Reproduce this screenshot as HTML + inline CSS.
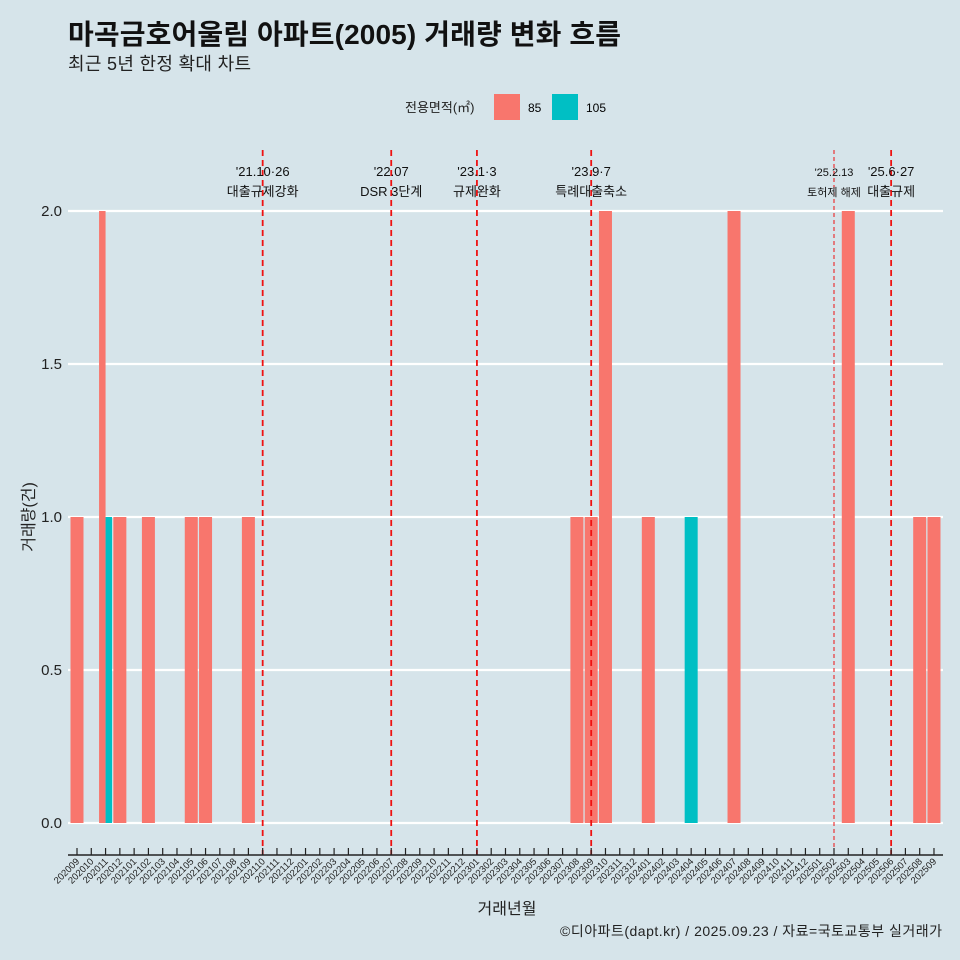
<!DOCTYPE html>
<html><head><meta charset="utf-8"><style>
body{margin:0;background:#d6e4ea;}
svg{display:block;font-family:"Liberation Sans","Noto Sans CJK KR",sans-serif;}
</style></head><body>
<svg id="c" width="960" height="960" viewBox="0 0 960 960">
<rect width="960" height="960" fill="#d6e4ea"/>
<text x="68" y="44" font-size="28" font-weight="bold" fill="#111" textLength="553">마곡금호어울림 아파트(2005) 거래량 변화 흐름</text>
<text x="68" y="70" font-size="18" fill="#222" textLength="183">최근 5년 한정 확대 차트</text>
<g>
<text x="405" y="112" font-size="13" fill="#222">전용면적(㎡)</text>
<rect x="494" y="94" width="26" height="26" fill="#f8766d"/>
<text x="528" y="112" font-size="12">85</text>
<rect x="552" y="94" width="26" height="26" fill="#00bfc4"/>
<text x="586" y="112" font-size="12">105</text>
</g>
<g id="grid"></g><g id="bars"></g><g id="events"></g><g id="axes"></g>
<text x="507" y="914" font-size="16" text-anchor="middle" fill="#222">거래년월</text>
<text transform="translate(34,517) rotate(-90)" font-size="16" text-anchor="middle" fill="#222">거래량(건)</text>
<text x="942" y="936" font-size="14" text-anchor="end" fill="#222" textLength="382">©디아파트(dapt.kr) / 2025.09.23 / 자료=국토교통부 실거래가</text>
</svg>
<script>
const months=[];for(let y=2020,m=9;y<2025||(y===2025&&m<=9);){months.push(''+y+(m<10?'0':'')+m);m++;if(m>12){m=1;y++;}}
const s85Months=['202009','202011','202012','202102','202105','202106','202109','202308','202309','202310','202401','202407','202503','202508','202509'];
const s85Values=[1,2,1,1,1,1,1,1,1,2,1,2,2,1,1];
const s105Months=['202011','202404'];
const s105Values=[1,1];
const yTicks=[0,0.5,1,1.5,2];
const yTickLabels=['0.0','0.5','1.0','1.5','2.0'];
const eventMonths=['202110','202207','202301','202309','202502','202506'];
const eventDates=["'21.10·26","'22.07","'23.1·3","'23.9·7","'25.2.13","'25.6·27"];
const eventNames=['대출규제강화','DSR 3단계','규제완화','특례대출축소','토허제 해제','대출규제'];
const NS='http://www.w3.org/2000/svg';
const x0=77,step=14.283,bw=13;
const X=m=>x0+months.indexOf(m)*step;
const Y=v=>823-v*306;
function mk(p,t,a){const e=document.createElementNS(NS,t);for(const k in a)e.setAttribute(k,a[k]);p.appendChild(e);return e;}
const g=document.getElementById('grid'),b=document.getElementById('bars'),ev=document.getElementById('events'),ax=document.getElementById('axes');
yTicks.forEach((v,i)=>{
 const l=mk(g,'line',{x1:68,x2:943,y1:Y(v),y2:Y(v),stroke:'#fff','stroke-width':2.2});
 
 
 const t=mk(ax,'text',{x:62,y:Y(v)+5,'font-size':15,'text-anchor':'end',fill:'#222'});t.textContent=yTickLabels[i];
 
 
});
function drawBar(m,v,color,name){
 const both=s85Months.includes(m)&&s105Months.includes(m);
 let x=X(m)-bw/2,w=bw;
 if(both){w=bw/2;if(color==='#00bfc4')x+=w;}
 const r=mk(b,'rect',{x:x,y:Y(v),width:w,height:Y(0)-Y(v),fill:color});
 
 
}
s85Months.forEach((m,i)=>drawBar(m,s85Values[i],'#f8766d','bar-85'));
s105Months.forEach((m,i)=>drawBar(m,s105Values[i],'#00bfc4','bar-105'));
eventMonths.forEach((m,i)=>{
 const x=X(m),thin=m==='202502';
 const l=mk(ev,'line',{x1:x,x2:x,y1:150,y2:855,stroke:'#ee1111','stroke-width':thin?1:1.8,'stroke-dasharray':thin?'4,3':'6,4'});
 
 
 const fs=thin?11:13;
 const t1=mk(ev,'text',{x:x,y:176,'font-size':fs,'text-anchor':'middle',fill:'#111'});t1.textContent=eventDates[i];
 
 
 const t2=mk(ev,'text',{x:x,y:196,'font-size':fs,'text-anchor':'middle',fill:'#111'});t2.textContent=eventNames[i];
 
 
});
const al=mk(ax,'line',{x1:68,x2:943,y1:855,y2:855,stroke:'#222','stroke-width':1.5});


months.forEach(m=>{
 const x=X(m);
 const tk=mk(ax,'line',{x1:x,x2:x,y1:848,y2:855,stroke:'#222','stroke-width':1.2});
 
 
 const t=mk(ax,'text',{transform:`translate(${x+3},${862}) rotate(-45)`,'font-size':9.5,'text-anchor':'end',fill:'#222'});t.textContent=m;
 
 
});
</script>
</body></html>
